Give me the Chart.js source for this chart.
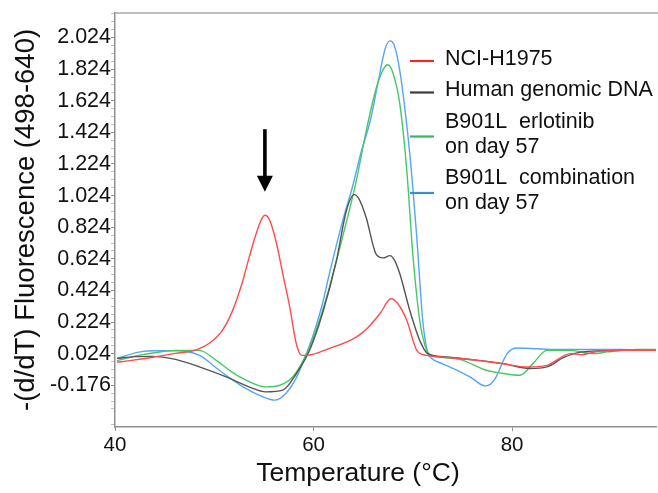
<!DOCTYPE html>
<html><head><meta charset="utf-8">
<script src="https://cdn.jsdelivr.net/npm/chart.js@4.4.1/dist/chart.umd.min.js"></script>
<style>html,body{margin:0;padding:0;background:#fff}#wrap{width:658px;height:493px;position:relative}</style>
</head><body><div id="wrap"><canvas id="c"></canvas></div>
<script>
// ---- data ----
const seriesNames = ['NCI-H1975', 'Human genomic DNA', 'B901L  erlotinib\non day 57', 'B901L  combination\non day 57'];
const seriesColors = ['rgb(255,75,75)', 'rgb(85,85,85)', 'rgb(70,200,100)', 'rgb(85,165,245)'];
const legendColors = ['rgb(240,40,40)', 'rgb(60,60,60)', 'rgb(50,185,90)', 'rgb(60,140,210)'];

const redT = [40.2,41.5,43.7,46.1,48.0,49.5,50.8,51.8,52.8,53.5,54.2,54.8,55.1,55.5,56.2,57.0,57.6,58.25,58.8,59.3,61.6,64.3,65.5,66.7,67.8,68.5,69.4,70.4,71.4,73.5,75.8,77.4,79.1,81.5,83.5,85.9,86.9,88.9,91.0,94.5];
const redV = [-0.03,-0.02,0.0,0.026,0.045,0.09,0.17,0.29,0.47,0.63,0.78,0.88,0.90,0.88,0.74,0.50,0.32,0.09,0.013,0.013,0.057,0.129,0.19,0.278,0.371,0.34,0.234,0.045,0.013,0.0,-0.013,-0.026,-0.04,-0.06,-0.05,0.024,0.018,0.04,0.045,0.045];

const blackT = [40.2,42.0,43.7,46.1,48.5,51.2,53.5,55.2,56.9,58.3,59.6,60.9,62.3,63.3,64.1,64.6,65.3,66.3,67.0,67.7,68.2,68.7,69.7,70.7,71.5,73.0,75.8,79.1,81.8,83.5,85.2,86.9,90.9,94.5];
const blackV = [-0.006,0.005,0.007,-0.012,-0.06,-0.123,-0.186,-0.218,-0.207,-0.10,0.045,0.278,0.612,0.927,1.03,1.0,0.885,0.654,0.63,0.644,0.61,0.528,0.297,0.108,0.024,0.005,-0.013,-0.039,-0.07,-0.06,0.0,0.034,0.045,0.045];

const greenT = [40.2,42.4,44.0,46.1,48.5,50.2,51.5,52.9,55.2,56.6,57.9,59.3,60.6,61.6,63.0,64.3,65.3,66.3,67.0,67.5,68.0,68.7,69.4,70.0,70.7,71.4,72.0,74.7,77.4,79.0,80.8,82.1,83.5,85.9,88.2,89.6,92.6,94.5];
const greenV = [-0.02,0.013,0.03,0.045,0.045,-0.018,-0.08,-0.134,-0.186,-0.176,-0.124,0.024,0.234,0.444,0.78,1.116,1.431,1.70,1.82,1.852,1.80,1.60,1.18,0.656,0.234,0.045,0.013,-0.012,-0.081,-0.10,-0.113,-0.039,0.045,0.045,0.024,0.035,0.05,0.05];

const blueT = [40.2,42.4,44.0,46.1,48.5,50.5,52.9,54.9,56.1,57.2,58.3,59.0,59.9,60.9,61.6,63.0,63.9,64.8,65.7,66.5,67.2,67.7,68.1,68.7,69.7,70.4,71.0,71.5,71.9,73.0,74.1,75.8,77.3,77.8,78.3,79.5,80.5,84.2,90.9,94.5];
const blueV = [-0.006,0.034,0.042,0.042,0.013,-0.081,-0.186,-0.249,-0.27,-0.228,-0.124,-0.02,0.13,0.34,0.53,0.88,1.074,1.30,1.494,1.74,1.95,2.003,1.98,1.81,1.285,0.76,0.234,0.03,-0.006,-0.04,-0.07,-0.124,-0.18,-0.17,-0.134,0.024,0.06,0.051,0.05,0.045];

const xTickValues = [40, 60, 80];
const yTickLabels = ['-0.176','0.024','0.224','0.424','0.624','0.824','1.024','1.224','1.424','1.624','1.824','2.024'];
const xTitleText = 'Temperature (\u00B0C)';
const yTitleText = '-(d/dT) Fluorescence (498-640)';
const arrowAt = { x: 55.1, yFrom: 1.444, yTo: 1.049 };

// ---- build ----
const FONT = "'Liberation Sans', Arial, sans-serif";
const pairs = (t, v) => t.map((tt, i) => ({ x: tt, y: v[i] }));
const seriesData = [pairs(redT, redV), pairs(blackT, blackV), pairs(greenT, greenV), pairs(blueT, blueV)];
const datasets = seriesData.map((d, i) => ({
  label: seriesNames[i], data: d, borderColor: seriesColors[i], borderWidth: 1.4,
  pointRadius: 0, fill: false, cubicInterpolationMode: 'monotone'
}));
const yMajor = yTickLabels.map(Number);
const yTicksAll = [];
yMajor.forEach(v => yTicksAll.push({ value: v }));
for (let k = -5; k <= 48; k++) {
  const v = -0.176 + k * 0.05;
  if (k % 4 !== 0 && v > -0.44 && v < 2.18) yTicksAll.push({ value: +v.toFixed(4), minor: true });
}
yTicksAll.sort((a, b) => a.value - b.value);

const decor = {
  id: 'decor',
  afterDraw(chart) {
    const { ctx, chartArea: a, scales: { x, y } } = chart;
    ctx.save();
    ctx.strokeStyle = '#a8a8a8'; ctx.lineWidth = 1.5;
    ctx.beginPath(); ctx.moveTo(a.left, a.top); ctx.lineTo(chart.width, a.top); ctx.stroke();
    // arrow
    const ax = x.getPixelForValue(arrowAt.x);
    const y0 = y.getPixelForValue(arrowAt.yFrom), y1 = y.getPixelForValue(arrowAt.yTo);
    ctx.strokeStyle = '#000'; ctx.fillStyle = '#000'; ctx.lineWidth = 3.6;
    ctx.beginPath(); ctx.moveTo(ax, y0); ctx.lineTo(ax, y1 - 14); ctx.stroke();
    ctx.beginPath(); ctx.moveTo(ax - 8, y1 - 16); ctx.lineTo(ax + 8, y1 - 16); ctx.lineTo(ax, y1); ctx.closePath(); ctx.fill();
    // legend
    ctx.font = '21.5px ' + FONT; ctx.textBaseline = 'middle'; ctx.textAlign = 'left';
    let cy = 59;
    chart.data.datasets.forEach((ds, i) => {
      const lines = ds.label.split('\n');
      const mid = cy + (lines.length - 1) * 25 / 2 + 2;
      ctx.strokeStyle = legendColors[i]; ctx.lineWidth = 2.2;
      ctx.beginPath(); ctx.moveTo(410, mid); ctx.lineTo(434, mid); ctx.stroke();
      ctx.fillStyle = '#111';
      lines.forEach((ln, j) => ctx.fillText(ln, 445, cy + j * 25));
      cy += (lines.length - 1) * 25 + 31.5;
    });
    // x title
    ctx.font = '26.5px ' + FONT; ctx.textAlign = 'center'; ctx.textBaseline = 'alphabetic'; ctx.fillStyle = '#111';
    ctx.fillText(xTitleText, 358, 481);
    ctx.restore();
  }
};

new Chart(document.getElementById('c'), {
  type: 'line',
  data: { datasets },
  options: {
    responsive: true, maintainAspectRatio: false, animation: false,
    layout: { padding: { top: 11, right: 2, left: 0, bottom: 0 } },
    plugins: { legend: { display: false }, tooltip: { enabled: false } },
    scales: {
      x: {
        type: 'linear', min: 40, max: 94.5,
        afterBuildTicks: s => { s.ticks = xTickValues.map(v => ({ value: v })); },
        afterFit: s => { s.height = 66; },
        grid: { drawOnChartArea: false, tickLength: 4, tickColor: '#909090' },
        border: { color: '#909090', width: 1.5 },
        ticks: { font: { size: 20.5, family: FONT }, color: '#111', padding: 2, maxRotation: 0 },
        title: { display: false }
      },
      y: {
        type: 'linear', min: -0.44, max: 2.18,
        afterBuildTicks: s => { s.ticks = yTicksAll.map(t => ({ value: t.value, minor: !!t.minor })); },
        afterFit: s => { s.width = 115; },
        grid: { drawOnChartArea: false, tickLength: 4,
          tickColor: c => (c.tick && c.tick.minor) ? '#c0c0c0' : '#909090' },
        border: { color: '#909090', width: 1.5 },
        ticks: { autoSkip: false, font: { size: 21.5, family: FONT }, color: '#111', padding: 0,
          callback: (v, i, ticks) => ticks[i].minor ? '' : Number(v).toFixed(3) },
        title: { display: true, text: yTitleText, font: { size: 27.5, family: FONT }, color: '#111', padding: { top: 10, bottom: 0 } }
      }
    }
  },
  plugins: [decor]
});
</script>
</body></html>
